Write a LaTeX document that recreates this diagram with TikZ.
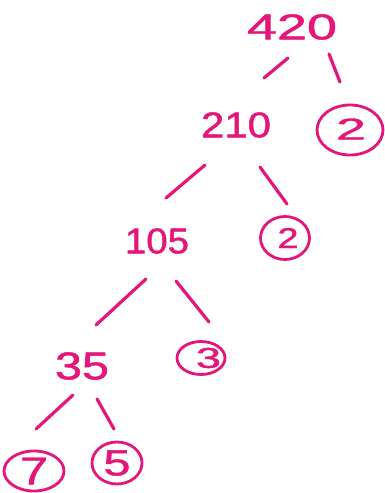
\documentclass[tikz,border=0pt]{standalone}
\usepackage{fontspec}
\usepackage{graphicx}
\setmainfont{Liberation Sans}[FakeBold=1.2]
\usetikzlibrary{shapes.geometric}
\definecolor{pinkink}{RGB}{228,22,122}
\newcommand{\shifted}[2]{\makebox[0pt]{\hspace*{#1}#2}}
\tikzset{
  num/.style={inner sep=0pt, text=pinkink, font=\fontsize{30}{30}\selectfont},
  leaf/.style={ellipse, draw=pinkink, line width=2.8pt, inner sep=0pt, text=pinkink, font=\fontsize{22}{22}\selectfont},
  branch/.style={draw=pinkink, line width=3.2pt, line cap=round},
}
\begin{document}
\begin{tikzpicture}[x=1pt,y=-1pt]
\useasboundingbox[fill=white] (0,0) rectangle (385,493);
% numbers
\node[num] (n420) at (292,27) {\resizebox{90pt}{25pt}{420}};
\node[num] (n210) at (236,125) {\resizebox{70pt}{25pt}{210}};
\node[num] (n105) at (157,241) {\resizebox{64pt}{25pt}{105}};
\node[num] (n35)  at (82,366)  {\resizebox{54pt}{27pt}{35}};
% prime leaves
\node[leaf, minimum width=66pt, minimum height=50pt] (p2a) at (350,130) {\shifted{2pt}{\raisebox{2pt}{\resizebox{30pt}{21pt}{2}}}};
\node[leaf, minimum width=49pt, minimum height=43pt] (p2b) at (285,238) {\shifted{6pt}{\raisebox{-1pt}{\resizebox{21pt}{20pt}{2}}}};
\node[leaf, minimum width=48pt, minimum height=33pt] (p3)  at (201,358) {\shifted{15pt}{\resizebox{25pt}{20pt}{3}}};
\node[leaf, minimum width=60pt, minimum height=40pt] (p7)  at (34,471)  {\shifted{0pt}{\resizebox{28pt}{27pt}{7}}};
\node[leaf, minimum width=50pt, minimum height=42pt] (p5)  at (117,463) {\shifted{0pt}{\raisebox{-2pt}{\resizebox{27pt}{25pt}{5}}}};
% branch ends
\coordinate (a1) at (288,58); \coordinate (a2) at (264,78);
\coordinate (b1) at (329,54); \coordinate (b2) at (340,82);
\coordinate (c1) at (205,165); \coordinate (c2) at (166,198);
\coordinate (d1) at (260,167); \coordinate (d2) at (287,204);
\coordinate (e1) at (146,279); \coordinate (e2) at (96,325);
\coordinate (f1) at (176,281); \coordinate (f2) at (209,322);
\coordinate (g1) at (73,395); \coordinate (g2) at (36,429);
\coordinate (h1) at (97,399); \coordinate (h2) at (114,429);
\draw[branch] (a1) -- (a2);
\draw[branch] (b1) -- (b2);
\draw[branch] (c1) -- (c2);
\draw[branch] (d1) -- (d2);
\draw[branch] (e1) -- (e2);
\draw[branch] (f1) -- (f2);
\draw[branch] (g1) -- (g2);
\draw[branch] (h1) -- (h2);
\end{tikzpicture}
\end{document}
